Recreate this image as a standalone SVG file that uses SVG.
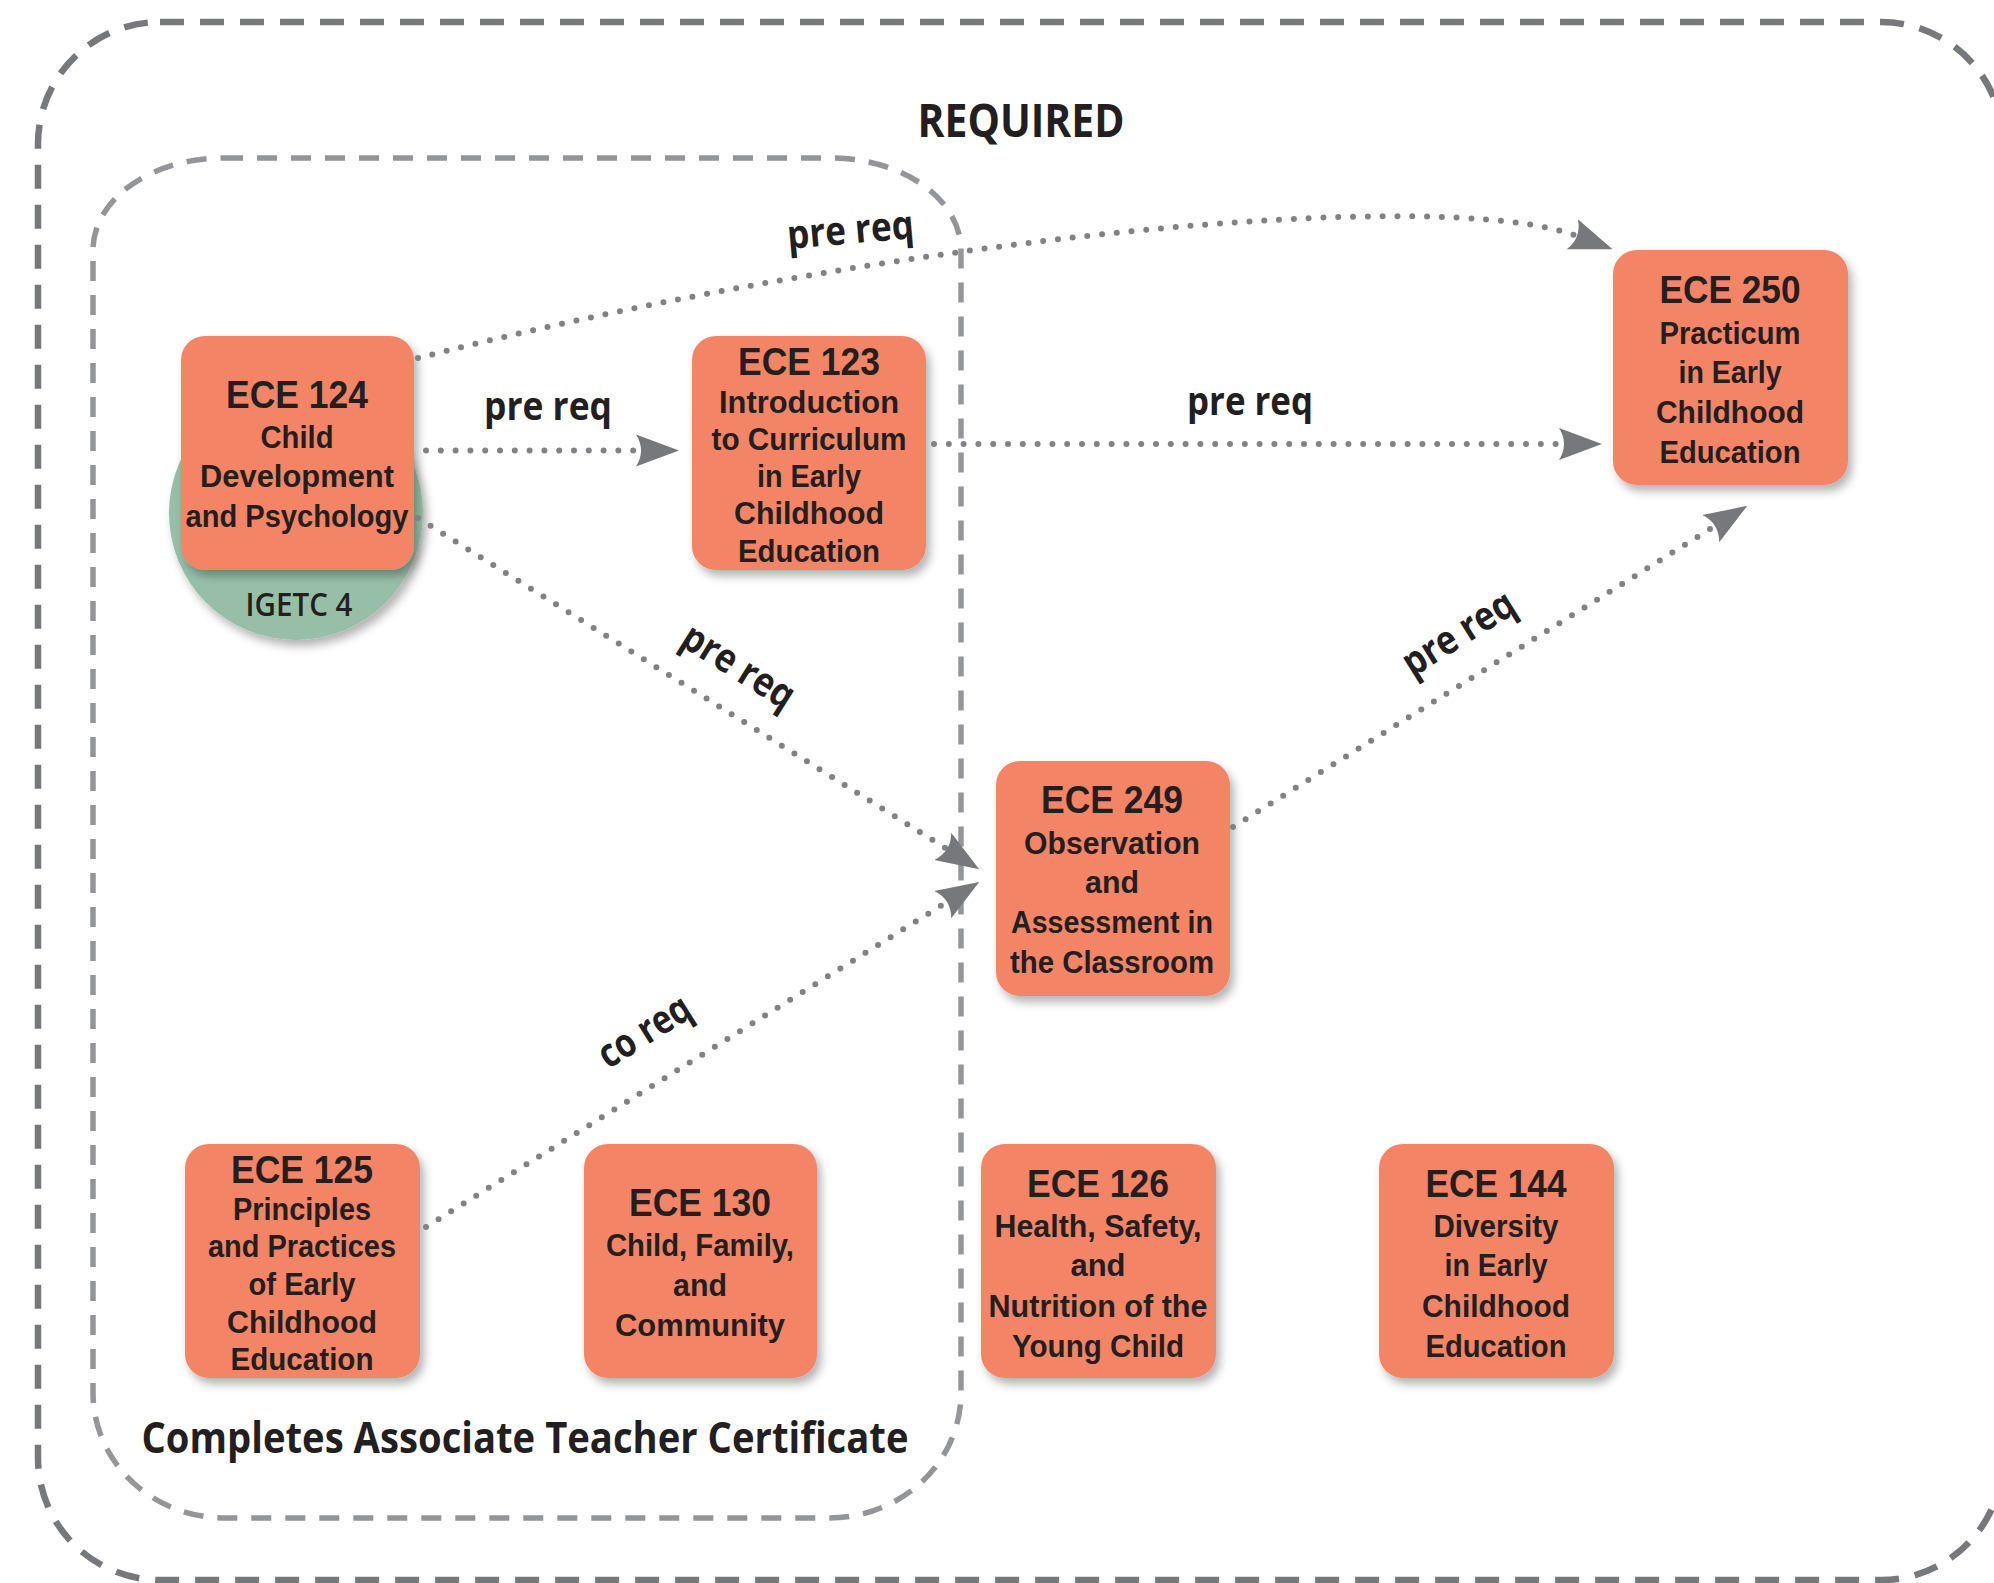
<svg xmlns="http://www.w3.org/2000/svg" width="1994" height="1583" viewBox="0 0 1994 1583">
<defs>
<style>
.t{font-family:"Open Sans","Liberation Sans",sans-serif;fill:#231f20;text-anchor:middle}
.n{font-family:"Liberation Sans",Arial,sans-serif;fill:#231f20;text-anchor:middle;font-weight:700}
.h{font-size:39px}
.b{font-size:31px}
.lbl{font-size:40px;font-weight:700}
.box{fill:#f48466;filter:url(#sh)}
.conn{fill:none;stroke:#808285;stroke-width:6;stroke-linecap:round;stroke-dasharray:0 14.8;marker-end:url(#ah)}
</style>
<filter id="sh" x="-20%" y="-20%" width="150%" height="150%">
<feDropShadow dx="4" dy="6" stdDeviation="5" flood-color="#000" flood-opacity="0.3"/>
</filter>
<marker id="ah" markerUnits="userSpaceOnUse" viewBox="0 -20 50 40" markerWidth="50" markerHeight="40" refX="5" refY="0" orient="auto">
<path d="M0,-16 L43,0 L0,16 Q10,0 0,-16Z" fill="#77787b"/>
</marker>
</defs>
<rect width="1994" height="1583" fill="#fff"/>

<g id="required-frame">
<rect x="38" y="22" width="1965" height="1558" rx="122" ry="122" fill="none" stroke="#77787b" stroke-width="6.5" stroke-dasharray="24 16"/>
<text class="t" x="1021" y="137" font-size="47" font-weight="700" textLength="207" lengthAdjust="spacingAndGlyphs">REQUIRED</text>
</g>

<g id="certificate-frame">
<path d="M223,158 H831 A130 92 0 0 1 961 250 V1393 A132 125 0 0 1 829 1518 H225 A132 125 0 0 1 93 1393 V250 A130 92 0 0 1 223 158 Z" fill="none" stroke="#939598" stroke-width="5.5" stroke-dasharray="20 14"/>
<text class="t" x="525" y="1453" font-size="43" font-weight="700" textLength="767" lengthAdjust="spacingAndGlyphs">Completes Associate Teacher Certificate</text>
</g>

<g id="igetc4">
<circle cx="296" cy="513" r="127" fill="#97bfa8" filter="url(#sh)"/>
<text class="t" x="299" y="616" font-size="33" font-weight="600" textLength="107" lengthAdjust="spacingAndGlyphs">IGETC 4</text>
</g>

<g id="ece124">
<rect class="box" x="181" y="336" width="233" height="234" rx="24"/>
<text class="n b"><tspan class="h" x="297" y="408" textLength="142" lengthAdjust="spacingAndGlyphs">ECE 124</tspan><tspan x="297" y="448" textLength="73" lengthAdjust="spacingAndGlyphs">Child</tspan><tspan x="297" y="487" textLength="194" lengthAdjust="spacingAndGlyphs">Development</tspan><tspan x="297" y="527" textLength="223" lengthAdjust="spacingAndGlyphs">and Psychology</tspan></text>
</g>

<g id="ece123">
<rect class="box" x="692" y="336" width="234" height="234" rx="24"/>
<text class="n b"><tspan class="h" x="809" y="375" textLength="142" lengthAdjust="spacingAndGlyphs">ECE 123</tspan><tspan x="809" y="413" textLength="180" lengthAdjust="spacingAndGlyphs">Introduction</tspan><tspan x="809" y="450" textLength="195" lengthAdjust="spacingAndGlyphs">to Curriculum</tspan><tspan x="809" y="487" textLength="104" lengthAdjust="spacingAndGlyphs">in Early</tspan><tspan x="809" y="524" textLength="150" lengthAdjust="spacingAndGlyphs">Childhood</tspan><tspan x="809" y="562" textLength="142" lengthAdjust="spacingAndGlyphs">Education</tspan></text>
</g>

<g id="ece250">
<rect class="box" x="1613" y="250" width="235" height="235" rx="24"/>
<text class="n b"><tspan class="h" x="1730" y="303" textLength="141" lengthAdjust="spacingAndGlyphs">ECE 250</tspan><tspan x="1730" y="344" textLength="141" lengthAdjust="spacingAndGlyphs">Practicum</tspan><tspan x="1730" y="383" textLength="103" lengthAdjust="spacingAndGlyphs">in Early</tspan><tspan x="1730" y="423" textLength="148" lengthAdjust="spacingAndGlyphs">Childhood</tspan><tspan x="1730" y="463" textLength="141" lengthAdjust="spacingAndGlyphs">Education</tspan></text>
</g>

<g id="ece249">
<rect class="box" x="996" y="761" width="234" height="235" rx="24"/>
<text class="n b"><tspan class="h" x="1112" y="813" textLength="142" lengthAdjust="spacingAndGlyphs">ECE 249</tspan><tspan x="1112" y="854" textLength="176" lengthAdjust="spacingAndGlyphs">Observation</tspan><tspan x="1112" y="893" textLength="54" lengthAdjust="spacingAndGlyphs">and</tspan><tspan x="1112" y="933" textLength="202" lengthAdjust="spacingAndGlyphs">Assessment in</tspan><tspan x="1112" y="973" textLength="204" lengthAdjust="spacingAndGlyphs">the Classroom</tspan></text>
</g>

<g id="ece125">
<rect class="box" x="185" y="1144" width="235" height="234" rx="24"/>
<text class="n b"><tspan class="h" x="302" y="1183" textLength="142" lengthAdjust="spacingAndGlyphs">ECE 125</tspan><tspan x="302" y="1220" textLength="138" lengthAdjust="spacingAndGlyphs">Principles</tspan><tspan x="302" y="1257" textLength="188" lengthAdjust="spacingAndGlyphs">and Practices</tspan><tspan x="302" y="1295" textLength="107" lengthAdjust="spacingAndGlyphs">of Early</tspan><tspan x="302" y="1333" textLength="150" lengthAdjust="spacingAndGlyphs">Childhood</tspan><tspan x="302" y="1370" textLength="143" lengthAdjust="spacingAndGlyphs">Education</tspan></text>
</g>

<g id="ece130">
<rect class="box" x="584" y="1144" width="233" height="234" rx="24"/>
<text class="n b"><tspan class="h" x="700" y="1216" textLength="142" lengthAdjust="spacingAndGlyphs">ECE 130</tspan><tspan x="700" y="1256" textLength="188" lengthAdjust="spacingAndGlyphs">Child, Family,</tspan><tspan x="700" y="1296" textLength="54" lengthAdjust="spacingAndGlyphs">and</tspan><tspan x="700" y="1336" textLength="170" lengthAdjust="spacingAndGlyphs">Community</tspan></text>
</g>

<g id="ece126">
<rect class="box" x="981" y="1144" width="235" height="234" rx="24"/>
<text class="n b"><tspan class="h" x="1098" y="1197" textLength="142" lengthAdjust="spacingAndGlyphs">ECE 126</tspan><tspan x="1098" y="1237" textLength="207" lengthAdjust="spacingAndGlyphs">Health, Safety,</tspan><tspan x="1098" y="1276" textLength="55" lengthAdjust="spacingAndGlyphs">and</tspan><tspan x="1098" y="1317" textLength="219" lengthAdjust="spacingAndGlyphs">Nutrition of the</tspan><tspan x="1098" y="1357" textLength="172" lengthAdjust="spacingAndGlyphs">Young Child</tspan></text>
</g>

<g id="ece144">
<rect class="box" x="1379" y="1144" width="235" height="234" rx="24"/>
<text class="n b"><tspan class="h" x="1496" y="1197" textLength="141" lengthAdjust="spacingAndGlyphs">ECE 144</tspan><tspan x="1496" y="1237" textLength="125" lengthAdjust="spacingAndGlyphs">Diversity</tspan><tspan x="1496" y="1276" textLength="103" lengthAdjust="spacingAndGlyphs">in Early</tspan><tspan x="1496" y="1317" textLength="148" lengthAdjust="spacingAndGlyphs">Childhood</tspan><tspan x="1496" y="1357" textLength="141" lengthAdjust="spacingAndGlyphs">Education</tspan></text>
</g>

<g id="connectors">
<path class="conn" d="M426,450.5 H641"/>
<path class="conn" d="M934,444 H1564"/>
<path class="conn" d="M418,358 C900,235 1440,185 1577,236"/>
<path class="conn" d="M418,518 L947,849"/>
<path class="conn" d="M426,1227 L947,902"/>
<path class="conn" d="M1233,827 L1715,526"/>
<text class="t lbl" x="548" y="420" textLength="128" lengthAdjust="spacingAndGlyphs">pre req</text>
<text class="t lbl" x="1250" y="415" textLength="126" lengthAdjust="spacingAndGlyphs">pre req</text>
<text class="t lbl" transform="translate(851,237) rotate(-5)" x="0" y="6.5" textLength="127" lengthAdjust="spacingAndGlyphs">pre req</text>
<text class="t lbl" transform="translate(735,672) rotate(32)" x="0" y="6.5" textLength="125" lengthAdjust="spacingAndGlyphs">pre req</text>
<text class="t lbl" transform="translate(648,1037) rotate(-32)" x="0" y="6.5" textLength="102" lengthAdjust="spacingAndGlyphs">co req</text>
<text class="t lbl" transform="translate(1462,639) rotate(-32)" x="0" y="6.5" textLength="125" lengthAdjust="spacingAndGlyphs">pre req</text>
</g>
</svg>
